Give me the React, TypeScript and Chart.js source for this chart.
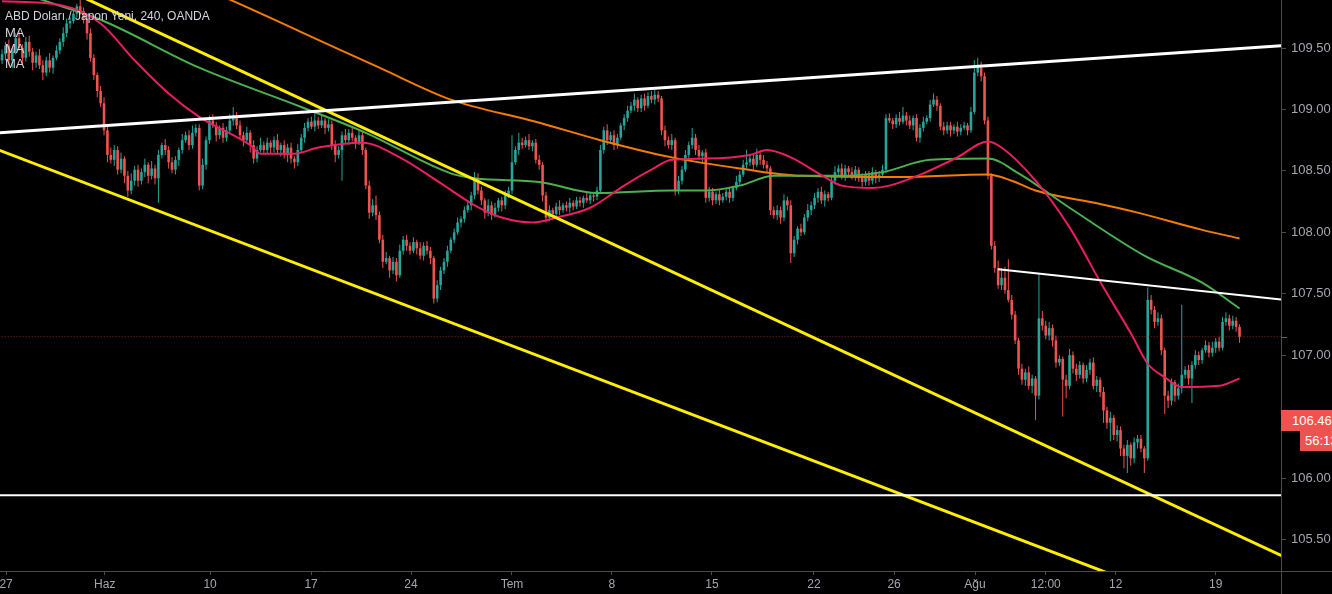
import React, { useEffect, useRef } from "react";
import { Chart, registerables } from "chart.js";

Chart.register(...registerables);

// ---- Candle data (4h candles, USD/JPY) ----
const firstOpen = 109.4;
const closes = [
  109.45, 109.52, 109.40, 109.48, 109.58, 109.50, 109.42, 109.55, 109.47, 109.38,
  109.44, 109.36, 109.30, 109.40, 109.34, 109.42, 109.48, 109.55, 109.62, 109.70,
  109.72, 109.78, 109.84, 109.80, 109.74, 109.62, 109.42, 109.28, 109.15, 109.05,
  108.83, 108.63, 108.59, 108.67, 108.51, 108.60, 108.46, 108.34, 108.42, 108.51,
  108.42, 108.49, 108.55, 108.46, 108.52, 108.44, 108.63, 108.71, 108.67, 108.57,
  108.51, 108.59, 108.67, 108.75, 108.79, 108.71, 108.81, 108.85, 108.38, 108.55,
  108.75, 108.91, 108.87, 108.79, 108.85, 108.77, 108.83, 108.91, 108.95, 108.87,
  108.79, 108.75, 108.81, 108.71, 108.60, 108.67, 108.71, 108.67, 108.73, 108.69,
  108.75, 108.67, 108.71, 108.63, 108.69, 108.60, 108.57, 108.67, 108.77, 108.85,
  108.90, 108.86, 108.91, 108.87, 108.91, 108.85, 108.88, 108.71, 108.63, 108.67,
  108.79, 108.75, 108.81, 108.77, 108.73, 108.79, 108.67, 108.38, 108.16, 108.22,
  108.14, 107.94, 107.76, 107.79, 107.69, 107.76, 107.65, 107.85, 107.94, 107.89,
  107.85, 107.92, 107.87, 107.81, 107.89, 107.85, 107.79, 107.46, 107.57, 107.69,
  107.76, 107.85, 107.94, 108.00, 108.08, 108.11, 108.18, 108.22, 108.30, 108.44,
  108.34, 108.26, 108.16, 108.22, 108.14, 108.20, 108.26, 108.22, 108.30, 108.34,
  108.57, 108.67, 108.73, 108.71, 108.75, 108.70, 108.73, 108.59, 108.55, 108.30,
  108.12, 108.18, 108.15, 108.21, 108.18, 108.22, 108.20, 108.24, 108.21, 108.26,
  108.24, 108.28, 108.26, 108.30, 108.29, 108.34, 108.67, 108.83, 108.75, 108.79,
  108.71, 108.77, 108.87, 108.93, 108.99, 109.03, 109.08, 109.01, 109.09, 109.03,
  109.11, 109.08, 109.12, 109.09, 108.83, 108.75, 108.71, 108.75, 108.34, 108.42,
  108.51, 108.63, 108.71, 108.77, 108.67, 108.62, 108.65, 108.28, 108.33, 108.26,
  108.31, 108.26, 108.29, 108.33, 108.28, 108.36, 108.41, 108.47, 108.55, 108.57,
  108.60, 108.55, 108.63, 108.59, 108.55, 108.52, 108.18, 108.14, 108.18, 108.12,
  108.26, 108.22, 107.83, 107.94, 108.03, 108.00, 108.12, 108.18, 108.22, 108.28,
  108.33, 108.26, 108.31, 108.28, 108.42, 108.49, 108.52, 108.46, 108.52, 108.49,
  108.46, 108.51, 108.44, 108.41, 108.47, 108.42, 108.49, 108.44, 108.47, 108.51,
  108.93, 108.91, 108.88, 108.93, 108.90, 108.95, 108.91, 108.87, 108.93, 108.77,
  108.85, 108.90, 108.93, 109.04, 109.08, 109.03, 108.86, 108.83, 108.87, 108.83,
  108.86, 108.82, 108.85, 108.87, 108.83, 108.98, 109.30, 109.34, 109.27, 108.91,
  108.46, 107.89, 107.71, 107.57, 107.63, 107.53, 107.45, 107.33, 107.12, 106.89,
  106.80, 106.86, 106.75, 106.81, 106.67, 107.30, 107.24, 107.16, 107.22, 107.12,
  106.94, 106.97, 106.80, 106.75, 107.00, 106.89, 106.84, 106.92, 106.81, 106.88,
  106.94, 106.75, 106.80, 106.70, 106.55, 106.45, 106.49, 106.35, 106.39, 106.24,
  106.18, 106.27, 106.16, 106.29, 106.32, 106.24, 106.16, 107.45, 107.37, 107.27,
  107.30, 107.04, 106.67, 106.63, 106.78, 106.67, 106.73, 106.84, 106.88, 106.81,
  106.92, 107.00, 106.96, 107.04, 107.08, 107.02, 107.06, 107.11, 107.06, 107.27,
  107.30, 107.24, 107.28, 107.23, 107.15,
];
// upper / lower wick lengths in pips (0.01)
const wickUp = [
  4, 3, 5, 2, 4, 6, 3, 4, 5, 3, 3, 5, 4, 3, 6, 2, 4, 3, 5, 4,
  3, 4, 2, 6, 3, 2, 4, 3, 2, 4, 5, 3, 6, 4, 3, 5, 2, 4, 6, 3,
  4, 3, 5, 2, 6, 3, 4, 2, 5, 3, 4, 3, 2, 5, 3, 4, 6, 3, 3, 5,
  3, 4, 5, 3, 2, 4, 3, 5, 7, 3, 4, 3, 5, 2, 4, 3, 6, 3, 4, 2,
  3, 5, 2, 4, 3, 4, 2, 5, 3, 4, 3, 4, 6, 3, 5, 2, 4, 3, 4, 3,
  3, 5, 3, 4, 2, 4, 3, 2, 4, 5, 8, 3, 4, 5, 2, 4, 3, 5, 3, 4,
  3, 4, 2, 5, 3, 4, 3, 2, 4, 3, 3, 4, 2, 3, 4, 2, 3, 4, 3, 5,
  4, 3, 2, 5, 3, 4, 2, 3, 4, 3, 22, 3, 8, 4, 3, 5, 2, 3, 4, 2,
  3, 4, 2, 3, 5, 2, 3, 4, 2, 3, 3, 2, 4, 3, 2, 3, 4, 3, 5, 3,
  4, 3, 2, 3, 4, 3, 5, 2, 3, 4, 3, 4, 4, 3, 2, 4, 3, 5, 2, 4,
  3, 4, 3, 8, 3, 4, 2, 3, 4, 3, 2, 4, 3, 3, 4, 2, 5, 3, 4, 10,
  4, 3, 5, 2, 4, 3, 2, 3, 4, 3, 5, 3, 4, 3, 2, 4, 3, 5, 3, 4,
  3, 4, 3, 2, 4, 5, 3, 4, 3, 2, 4, 3, 2, 4, 3, 3, 4, 2, 3, 4,
  3, 4, 2, 3, 5, 7, 3, 4, 2, 3, 3, 4, 2, 4, 5, 3, 2, 4, 3, 3,
  2, 4, 3, 3, 2, 4, 10, 8, 5, 3, 3, 2, 4, 6, 8, 9, 25, 4, 3, 2,
  4, 3, 5, 3, 2, 37, 6, 4, 5, 3, 4, 3, 2, 4, 5, 3, 4, 3, 2, 4,
  3, 4, 3, 2, 4, 3, 5, 2, 4, 3, 3, 4, 2, 4, 3, 3, 2, 10, 4, 3,
  5, 3, 2, 4, 3, 2, 4, 57, 3, 4, 3, 4, 3, 2, 4, 3, 5, 3, 4, 4,
  5, 3, 4, 3, 2,
];
const wickDn = [
  3, 5, 4, 6, 3, 2, 5, 3, 4, 6, 4, 3, 6, 3, 4, 5, 2, 3, 4, 3,
  4, 2, 3, 3, 4, 5, 3, 4, 5, 3, 4, 6, 3, 5, 4, 3, 6, 5, 3, 4,
  5, 3, 4, 6, 3, 5, 20, 3, 4, 5, 3, 4, 5, 3, 2, 4, 3, 3, 4, 3,
  4, 3, 2, 5, 3, 4, 3, 2, 4, 3, 3, 5, 3, 6, 4, 3, 2, 4, 3, 5,
  4, 3, 5, 3, 6, 4, 5, 3, 2, 4, 3, 2, 4, 3, 2, 5, 3, 4, 6, 3,
  25, 3, 4, 3, 5, 2, 4, 3, 5, 3, 4, 3, 5, 2, 6, 3, 5, 2, 3, 4,
  3, 2, 5, 3, 4, 3, 5, 4, 3, 4, 3, 4, 2, 3, 2, 4, 3, 2, 4, 3,
  3, 4, 5, 3, 4, 2, 3, 5, 3, 2, 3, 2, 4, 3, 2, 3, 4, 3, 4, 5,
  4, 3, 5, 3, 4, 2, 3, 4, 3, 2, 3, 4, 2, 3, 4, 3, 2, 3, 4, 3,
  4, 3, 2, 4, 3, 2, 4, 3, 3, 4, 2, 3, 4, 3, 4, 5, 3, 4, 4, 3,
  3, 2, 4, 3, 4, 3, 5, 4, 3, 4, 3, 4, 2, 3, 4, 3, 2, 3, 2, 3,
  3, 4, 2, 4, 3, 3, 4, 3, 4, 5, 3, 4, 8, 3, 4, 3, 2, 3, 4, 3,
  4, 3, 5, 3, 2, 3, 4, 3, 4, 3, 3, 4, 3, 5, 3, 4, 3, 4, 3, 2,
  3, 2, 4, 3, 3, 2, 4, 3, 4, 3, 4, 3, 2, 3, 2, 4, 3, 4, 3, 5,
  3, 4, 3, 2, 4, 2, 2, 3, 4, 3, 3, 3, 4, 3, 4, 3, 2, 4, 3, 5,
  4, 5, 3, 6, 20, 3, 4, 3, 4, 5, 4, 3, 30, 10, 3, 4, 5, 3, 4, 3,
  4, 3, 5, 4, 10, 5, 15, 4, 5, 6, 10, 14, 6, 4, 5, 3, 12, 2, 4, 5,
  3, 4, 15, 6, 4, 5, 3, 4, 3, 5, 20, 3, 4, 3, 2, 4, 3, 4, 3, 2,
  3, 4, 3, 4, 5,
];

// ---- Moving averages (candle index / price) ----
const pinkIdx = [0, 17, 29, 39, 49, 58, 73, 76, 86, 93, 106, 117, 129, 139, 147, 156, 163, 173, 183, 191, 197, 207, 220, 225, 232, 242, 247, 256, 261, 271, 281, 290, 294, 304, 314, 324, 332, 337, 342, 347, 358, 364];
const pinkVal = [109.88, 109.85, 109.70, 109.40, 109.13, 108.94, 108.71, 108.64, 108.64, 108.69, 108.73, 108.61, 108.40, 108.22, 108.12, 108.08, 108.12, 108.20, 108.38, 108.51, 108.59, 108.60, 108.63, 108.67, 108.61, 108.45, 108.38, 108.36, 108.38, 108.48, 108.61, 108.74, 108.69, 108.42, 108.04, 107.55, 107.18, 106.93, 106.82, 106.74, 106.75, 106.81];
const greenIdx = [0, 12, 29, 58, 88, 107, 132, 139, 158, 175, 197, 207, 217, 227, 247, 259, 273, 290, 299, 314, 336, 353, 364];
const greenVal = [110.01, 109.89, 109.73, 109.34, 109.02, 108.81, 108.48, 108.44, 108.41, 108.32, 108.34, 108.34, 108.38, 108.46, 108.46, 108.49, 108.59, 108.60, 108.48, 108.20, 107.81, 107.59, 107.38];
const orangeIdx = [40, 64, 88, 111, 132, 157, 176, 197, 217, 235, 264, 290, 297, 304, 323, 334, 353, 364];
const orangeVal = [110.19, 109.93, 109.63, 109.34, 109.08, 108.90, 108.75, 108.61, 108.52, 108.46, 108.45, 108.47, 108.42, 108.34, 108.23, 108.16, 108.02, 107.95];

// ---- Drawn trend lines: [index, price] end points ----
const whiteTopLine = [[-1, 108.81], [377, 109.52]];
const whiteShortLine = [[293, 107.70], [377, 107.45]];
const whiteFlatLine = [[-1, 105.86], [377, 105.86]];
const yellowUpperLine = [[0, 110.22], [377, 105.36]];
const yellowLowerLine = [[-1, 108.67], [377, 104.68]];
const lastPrice = 107.15;

// ---- Axes ----
const xTickPos = [1.2, 30.2, 61.2, 90.9, 120.3, 150, 179.4, 208.8, 238.8, 262.4, 286.2, 307, 327.6, 357];
const xTickLabels = ["27", "Haz", "10", "17", "24", "Tem", "8", "15", "22", "26", "Ağu", "12:00", "12", "19"];
const yTicks = [105.5, 106, 106.5, 107, 107.5, 108, 108.5, 109, 109.5];
const yMin = 105.243;
const yMax = 109.891;
const xMin = -0.6;
const xMax = 376.2;

const UP = "#26a69a";
const DOWN = "#ef5350";
const AXIS = "#4a4a4a";
const TEXT = "#a3a6af";
const FONT = "'Liberation Sans', Arial, sans-serif";

const toPts = (idx: number[], val: number[]) => idx.map((x, i) => ({ x, y: val[i] }));
const linePts = (l: number[][]) => l.map((p) => ({ x: p[0], y: p[1] }));

export default function App() {
  const ref = useRef<HTMLCanvasElement>(null);

  useEffect(() => {
    if (!ref.current) return;
    const opens = closes.map((c, i) => (i === 0 ? firstOpen : closes[i - 1]));
    const highs = closes.map((c, i) => Math.max(opens[i], c) + wickUp[i] / 100);
    const lows = closes.map((c, i) => Math.min(opens[i], c) - wickDn[i] / 100);
    const colors = closes.map((c, i) => (c >= opens[i] ? UP : DOWN));
    const bodyData = closes.map((c, i) => ({ x: i, y: [opens[i], c] }));
    const wickData = closes.map((c, i) => ({ x: i, y: [lows[i], highs[i]] }));

    const borderPlugin = {
      id: "extraBorders",
      afterDraw(chart: any) {
        const ctx = chart.ctx;
        const a = chart.chartArea;
        ctx.save();
        ctx.strokeStyle = AXIS;
        ctx.lineWidth = 1;
        ctx.beginPath();
        ctx.moveTo(a.right, a.bottom + 0.5);
        ctx.lineTo(chart.width, a.bottom + 0.5);
        ctx.moveTo(a.right + 0.5, a.bottom);
        ctx.lineTo(a.right + 0.5, chart.height);
        ctx.stroke();
        const py = Math.round(chart.scales.y.getPixelForValue(lastPrice)) + 0.5;
        ctx.strokeStyle = "#c0392b";
        ctx.beginPath();
        ctx.moveTo(a.right, py);
        ctx.lineTo(a.right + 6, py);
        ctx.stroke();
        ctx.restore();
      },
    };

    const lineDs = (data: any[], color: string, width: number, order: number, smooth: boolean, dash?: number[]) => ({
      type: "line" as const,
      data,
      borderColor: color,
      borderWidth: width,
      borderDash: dash || [],
      pointRadius: 0,
      fill: false,
      tension: 0,
      cubicInterpolationMode: smooth ? ("monotone" as const) : ("default" as const),
      order,
      clip: 0,
    });

    const chart = new Chart(ref.current, {
      type: "bar",
      data: {
        datasets: [
          {
            type: "bar",
            data: wickData as any,
            backgroundColor: colors,
            barThickness: 1,
            maxBarThickness: 1,
            grouped: false,
            borderWidth: 0,
            inflateAmount: 0,
            order: 20,
          } as any,
          {
            type: "bar",
            data: bodyData as any,
            backgroundColor: colors,
            barThickness: 2.6,
            maxBarThickness: 2.6,
            minBarLength: 1,
            grouped: false,
            borderWidth: 0,
            inflateAmount: 0,
            order: 19,
          } as any,
          lineDs([{ x: -1, y: lastPrice }, { x: 377, y: lastPrice }], "rgba(190,50,50,0.75)", 1, 15, false, [1, 2]),
          lineDs(toPts(orangeIdx, orangeVal), "#f57c00", 2, 8, true),
          lineDs(toPts(greenIdx, greenVal), "#4caf50", 2, 7, true),
          lineDs(toPts(pinkIdx, pinkVal), "#e91e63", 2, 6, true),
          lineDs(linePts(yellowUpperLine), "#ffee00", 3, 2, false),
          lineDs(linePts(yellowLowerLine), "#ffee00", 3, 2, false),
          lineDs(linePts(whiteTopLine), "#ffffff", 3, 1, false),
          lineDs(linePts(whiteShortLine), "#ffffff", 2, 1, false),
          lineDs(linePts(whiteFlatLine), "#ffffff", 2, 1, false),
        ] as any,
      },
      options: {
        animation: false,
        responsive: false,
        devicePixelRatio: 1,
        layout: { padding: 0 },
        plugins: { legend: { display: false }, tooltip: { enabled: false } },
        scales: {
          x: {
            type: "linear",
            min: xMin,
            max: xMax,
            offset: false,
            grid: { drawOnChartArea: false, drawTicks: true, tickLength: 4, color: AXIS, offset: false },
            border: { display: true, color: AXIS },
            ticks: {
              color: TEXT,
              font: { family: FONT, size: 12 },
              padding: 2,
              autoSkip: false,
              maxRotation: 0,
              callback: (_v: any, i: number) => xTickLabels[i],
            },
            afterBuildTicks: (s: any) => {
              s.ticks = xTickPos.map((v) => ({ value: v }));
            },
            afterFit: (s: any) => {
              s.height = 23;
              s.paddingLeft = 0;
              s.paddingRight = 0;
            },
          },
          y: {
            type: "linear",
            position: "right",
            min: yMin,
            max: yMax,
            grid: { drawOnChartArea: false, drawTicks: true, tickLength: 5, color: AXIS },
            border: { display: true, color: AXIS },
            ticks: {
              color: TEXT,
              font: { family: FONT, size: 13 },
              padding: 5,
              callback: (v: any) => Number(v).toFixed(2),
            },
            afterBuildTicks: (s: any) => {
              s.ticks = yTicks.map((v) => ({ value: v }));
            },
            afterFit: (s: any) => {
              s.width = 51;
              s.paddingTop = 0;
              s.paddingBottom = 0;
            },
          },
        },
      } as any,
      plugins: [borderPlugin],
    });
    return () => chart.destroy();
  }, []);

  const label: React.CSSProperties = {
    position: "absolute",
    left: 5,
    color: "#d1d4dc",
    font: `12px ${FONT}`,
    lineHeight: "16px",
    whiteSpace: "nowrap",
  };

  return (
    <div
      style={{
        position: "fixed",
        left: 0,
        top: 0,
        width: 1332,
        height: 594,
        background: "#000",
        overflow: "hidden",
      }}
    >
      <canvas ref={ref} width={1332} height={594} style={{ display: "block" }} />
      <div style={{ ...label, top: 8 }}>ABD Doları / Japon Yeni, 240, OANDA</div>
      <div style={{ ...label, top: 25, fontSize: 13 }}>MA</div>
      <div style={{ ...label, top: 41, fontSize: 13 }}>MA</div>
      <div style={{ ...label, top: 56, fontSize: 13 }}>MA</div>
      <div
        style={{
          position: "absolute",
          left: 1281,
          top: 410,
          width: 51,
          height: 21,
          background: "#ef5350",
          color: "#fff",
          font: `13px ${FONT}`,
          lineHeight: "21px",
          paddingLeft: 11,
          boxSizing: "border-box",
          whiteSpace: "nowrap",
          overflow: "hidden",
        }}
      >
        106.46
      </div>
      <div
        style={{
          position: "absolute",
          left: 1300,
          top: 431,
          width: 32,
          height: 20,
          background: "#ef5350",
          color: "#fff",
          font: `13px ${FONT}`,
          lineHeight: "20px",
          paddingLeft: 5,
          boxSizing: "border-box",
          whiteSpace: "nowrap",
          overflow: "hidden",
        }}
      >
        56:13
      </div>
    </div>
  );
}
